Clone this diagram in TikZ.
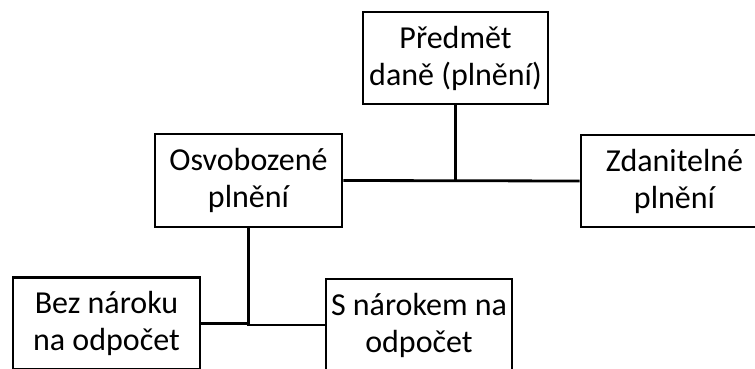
\documentclass[tikz,border=0pt]{standalone}
\usepackage{fontspec}
\setmainfont{Carlito}
\begin{document}
\begin{tikzpicture}[x=1pt,y=-1pt,
  box/.style={draw=black,line width=2.8pt,fill=white,rectangle,inner sep=0pt,
    align=center,font=\fontsize{32}{37}\selectfont},
  link/.style={draw=black,line width=2.8pt}]
\useasboundingbox (0,0) rectangle (755,369);
\clip (0,0) rectangle (755,369);
\fill[white] (0,0) rectangle (755,369);
% tree of taxable supplies
\node[box,minimum width=185pt,minimum height=92pt] (top) at (455.5,58) {Předmět\\daně (plnění)};
\node[box,minimum width=187pt,minimum height=93pt] (osv) at (248.5,180.5) {Osvobozené\\plnění};
\node[box,minimum width=187pt,minimum height=92pt] (zdan) at (674.5,181) {Zdanitelné\\plnění};
\node[box,minimum width=187pt,minimum height=92pt] (bez) at (106.5,323.5) {Bez nároku\\na odpočet};
\node[box,minimum width=186pt,minimum height=92pt] (snar) at (419,325) {S nárokem na\\odpočet};
% connectors
\draw[link] (top.south) -- (top.south |- osv.east);
\draw[link] (osv.east) -- (zdan.west);
\draw[link] (bez.east) -| (osv.south);
\draw[link] (osv.south) |- (snar.west);
\end{tikzpicture}
\end{document}
